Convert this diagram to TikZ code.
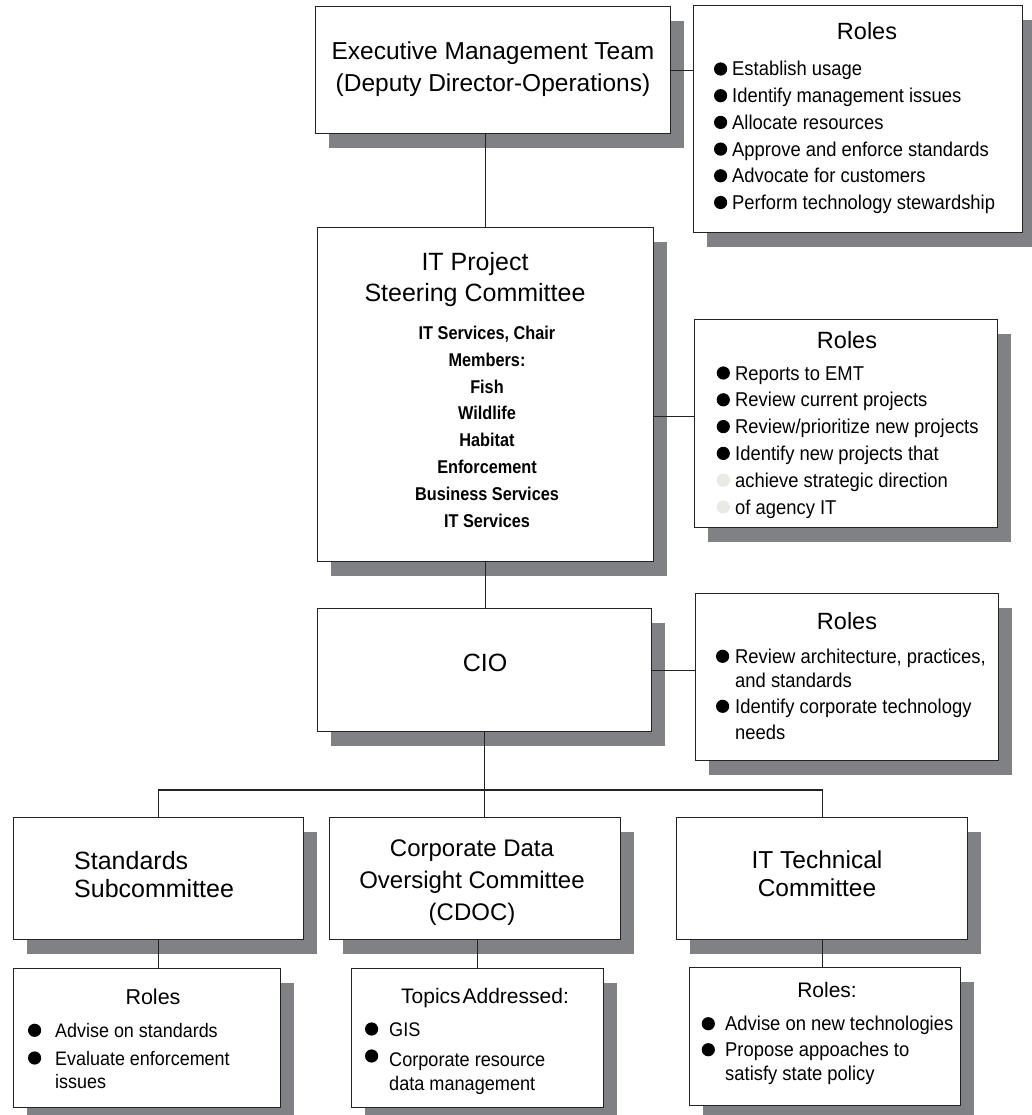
\documentclass[tikz,border=0pt]{standalone}
\usepackage{fontspec}
\setmainfont{Liberation Sans}
\newfontfamily\narrowf[FakeStretch=0.92]{Liberation Sans}
\newfontfamily\narrowb[FakeStretch=0.88]{Liberation Sans Bold}
\usetikzlibrary{shadows}
\definecolor{shgray}{RGB}{128,129,133}
\definecolor{edge}{RGB}{35,35,35}
\definecolor{faint}{RGB}{234,234,228}
\newcommand\fs[1]{\fontsize{#1}{#1}\selectfont}
\def\curfont{\narrowf\fs{20}}
% bullet item: [bullet colour]{name}{bullet left}{text left}{baseline}{text}
\newcommand\li[6][black]{%
  \fill[#1] ({#3+6.6},{#5-7}) circle (6.6pt);
  \node[item] (#2) at (#4,#5) {#6};}
\newcommand\tx[4]{\node[ttl,font=#4] (#1) at (#2) {#3};}
\begin{document}
\begin{tikzpicture}[x=1pt,y=-1pt,
  box/.style={draw=edge, line width=1.3pt, fill=white, inner sep=0pt, anchor=north west,
    drop shadow={shadow xshift=13pt, shadow yshift=-14pt, fill=shgray, opacity=1}},
  item/.style={inner sep=0pt, anchor=base west, font=\curfont},
  ttl/.style={inner sep=0pt, anchor=base},
  conn/.style={draw=edge, line width=1.2pt}]
\useasboundingbox (0,0) rectangle (1032,1115);

% boxes
\node[box, minimum width=355pt, minimum height=127pt] (emt) at (315,6) {};
\node[box, minimum width=329pt, minimum height=227pt] (roles1) at (693,5) {};
\node[box, minimum width=336pt, minimum height=334pt] (itpsc) at (317,227) {};
\node[box, minimum width=303pt, minimum height=208pt] (roles2) at (694,319) {};
\node[box, minimum width=334pt, minimum height=123pt] (cio) at (317,608) {};
\node[box, minimum width=303pt, minimum height=167pt] (roles3) at (695,593) {};
\node[box, minimum width=290pt, minimum height=122pt] (std) at (13,817) {};
\node[box, minimum width=291pt, minimum height=122pt] (cdoc) at (329,817) {};
\node[box, minimum width=291pt, minimum height=122pt] (ittc) at (676,817) {};
\node[box, minimum width=267pt, minimum height=139pt] (roles4) at (13,968) {};
\node[box, minimum width=252pt, minimum height=139pt] (topics) at (351,968) {};
\node[box, minimum width=271pt, minimum height=138pt] (roles5) at (689,967) {};

% connectors
\draw[conn] (itpsc.north) -- (itpsc.north |- emt.south);
\draw[conn] (emt.east) -- (emt.east -| roles1.west);
\draw[conn] ([yshift=7pt]roles2.west) -- ([yshift=7pt]roles2.west -| itpsc.east);
\draw[conn] (itpsc.south) -- (itpsc.south |- cio.north);
\draw[conn] (cio.east) -- (cio.east -| roles3.west);
\coordinate (bus) at (cio.south |- 0,790);
\draw[conn] (cio.south) -- (cio.south |- cdoc.north);
\draw[conn] (std.north) |- (bus) -| (ittc.north);
\draw[conn] (std.south) -- (std.south |- roles4.north);
\draw[conn] (topics.north) -- (topics.north |- cdoc.south);
\draw[conn] (ittc.south) -- (ittc.south |- roles5.north);

% EMT
\tx{emt1}{493,60}{Executive Management Team}{\fs{24.5}}
\tx{emt2}{493,91.7}{(Deputy Director-Operations)}{\fs{24.5}}
% Roles 1
\tx{r1t}{867,39.3}{Roles}{\fs{23.5}}
\def\curfont{\narrowf\fs{20}}
\li{r1a}{714}{732}{76}{Establish usage}
\li{r1b}{714}{732}{102.7}{Identify management issues}
\li{r1c}{714}{732}{129.4}{Allocate resources}
\li{r1d}{714}{732}{156.1}{Approve and enforce standards}
\li{r1e}{714}{732}{182.8}{Advocate for customers}
\li{r1f}{714}{732}{209.5}{Perform technology stewardship}

% IT Project Steering Committee
\tx{p1}{475,270}{IT Project}{\fs{25}}
\tx{p2}{475,301.7}{Steering Committee}{\fs{25}}
\tx{m1}{487,339.3}{IT Services, Chair}{\narrowb\fs{18.5}}
\tx{m2}{487,366.2}{Members:}{\narrowb\fs{18.5}}
\tx{m3}{487,393}{Fish}{\narrowb\fs{18.5}}
\tx{m4}{487,419.9}{Wildlife}{\narrowb\fs{18.5}}
\tx{m5}{487,446.7}{Habitat}{\narrowb\fs{18.5}}
\tx{m6}{487,473.6}{Enforcement}{\narrowb\fs{18.5}}
\tx{m7}{487,500.4}{Business Services}{\narrowb\fs{18.5}}
\tx{m8}{487,527.3}{IT Services}{\narrowb\fs{18.5}}

% Roles 2
\tx{r2t}{847,348}{Roles}{\fs{23.5}}
\li{r2a}{716.7}{735}{380}{Reports to EMT}
\li{r2b}{716.7}{735}{406.8}{Review current projects}
\li{r2c}{716.7}{735}{433.6}{Review/prioritize new projects}
\li{r2d}{716.7}{735}{460.4}{Identify new projects that}
\li[faint]{r2e}{716.7}{735}{487.2}{achieve strategic direction}
\li[faint]{r2f}{716.7}{735}{514}{of agency IT}

% CIO
\tx{cio1}{485,671.7}{CIO}{\fs{25}}
% Roles 3
\tx{r3t}{847,629}{Roles}{\fs{23.5}}
\li{r3a}{716}{735}{663.3}{Review architecture, practices,}
\node[item] (r3b) at (735,687.3) {and standards};
\li{r3c}{716}{735}{713.3}{Identify corporate technology}
\node[item] (r3d) at (735,739.3) {needs};

% Standards
\node[ttl, anchor=base west, font=\fs{25}] (s1) at (74,869.3) {Standards};
\node[ttl, anchor=base west, font=\fs{25}] (s2) at (74,897.3) {Subcommittee};
\tx{r4t}{153,1004.3}{Roles}{\fs{21.5}}
\def\curfont{\narrowf\fs{19.5}}
\li{r4a}{28}{55}{1037.3}{Advise on standards}
\li{r4b}{28}{55}{1065}{Evaluate enforcement}
\node[item] (r4c) at (55,1088.3) {issues};

% CDOC
\tx{c1}{472,856.7}{Corporate Data}{\fs{24}}
\tx{c2}{472,888.3}{Oversight Committee}{\fs{24}}
\tx{c3}{472,920}{(CDOC)}{\fs{24}}
\tx{tt}{485,1003.3}{Topics\hspace{2pt}Addressed:}{\fs{21}}
\def\curfont{\narrowf\fs{19.7}}
\li{ta}{365}{389}{1036}{GIS}
\li{tb}{365}{389}{1063}{}
\node[item] (tb2) at (389,1066) {Corporate resource};
\node[item] (tc) at (389,1090) {data management};

% IT Technical Committee
\tx{t1}{817,868.3}{IT Technical}{\fs{24.5}}
\tx{t2}{817,896.7}{Committee}{\fs{24.5}}
\tx{r5t}{827,997.3}{Roles:}{\fs{21}}
\def\curfont{\narrowf\fs{20}}
\li{r5a}{701.7}{725}{1030.7}{Advise on new technologies}
\li{r5b}{701.7}{725}{1056.7}{Propose appoaches to}
\node[item] (r5c) at (725,1080) {satisfy state policy};
\end{tikzpicture}
\end{document}
